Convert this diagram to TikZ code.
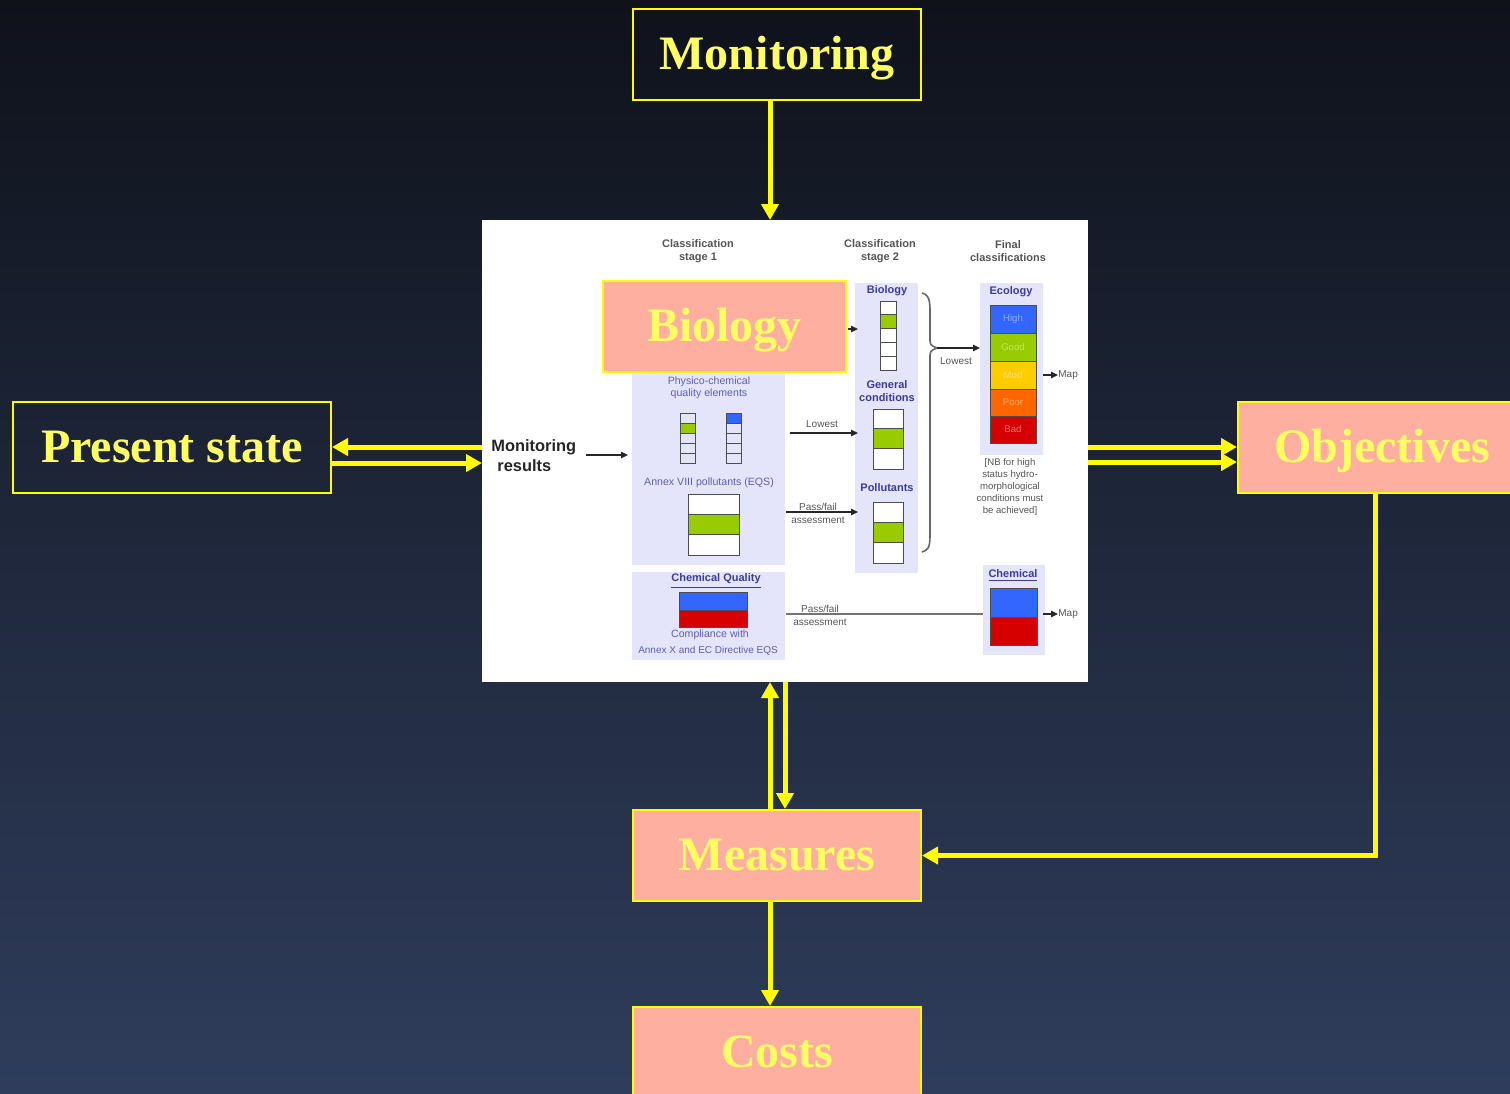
\documentclass[tikz,border=0pt]{standalone}
\usepackage{fontspec}
\setmainfont{Liberation Serif}
\setsansfont{Liberation Sans}
\usetikzlibrary{arrows.meta}

\definecolor{bgtop}{RGB}{15,18,27}
\definecolor{bgbot}{RGB}{47,61,92}
\definecolor{pinkfill}{RGB}{255,175,160}
\definecolor{ytext}{RGB}{255,255,100}
\definecolor{ycol}{RGB}{255,255,0}
\definecolor{lav}{RGB}{228,228,250}
\definecolor{bluetxt}{RGB}{95,95,175}
\definecolor{dbluetxt}{RGB}{60,60,150}
\definecolor{graytxt}{RGB}{85,85,85}
\definecolor{cblue}{RGB}{51,102,255}
\definecolor{cgreen}{RGB}{153,204,0}
\definecolor{cyellow}{RGB}{255,204,0}
\definecolor{corange}{RGB}{255,102,0}
\definecolor{cred}{RGB}{215,0,0}

\begin{document}
\begin{tikzpicture}[x=0.5pt,y=-0.5pt,
  bigbox/.style={draw=ycol, line width=1pt, minimum width=144pt, minimum height=45.5pt,
    inner sep=0pt, text=ytext, text height=17pt, text depth=2pt,
    font=\fontsize{24}{28}\selectfont\bfseries},
  pinkbox/.style={bigbox, fill=pinkfill},
  yarrow/.style={draw=ycol, line width=2.5pt, -{Triangle[length=8pt,width=8.5pt]}},
  hdr/.style={font=\sffamily\bfseries\fontsize{5.5}{6.5}\selectfont, text=graytxt, align=center, inner sep=0pt},
  btxt/.style={font=\sffamily\fontsize{5.3}{6}\selectfont, text=bluetxt, align=center, inner sep=0pt},
  bbold/.style={font=\sffamily\bfseries\fontsize{5.5}{6.5}\selectfont, text=dbluetxt, align=center, inner sep=0pt},
  gtxt/.style={font=\sffamily\fontsize{5}{6.5}\selectfont, text=graytxt, align=center, inner sep=0pt},
  ntxt/.style={font=\sffamily\fontsize{4.8}{5.9}\selectfont, text=graytxt, align=center, inner sep=0pt},
  celltxt/.style={font=\sffamily\fontsize{4.8}{5}\selectfont, inner sep=0pt},
  cell/.style={draw=black!70, line width=0.5pt},
  blk/.style={draw=black!85, line width=0.6pt, -{Triangle[length=3.5pt,width=3.2pt]}}
]
\useasboundingbox (0,0) rectangle (1510,1093);
\clip (0,0) rectangle (1510,1093);
\shade[top color=bgtop, bottom color=bgbot] (0,0) rectangle (1510,1093);

% central panel
\node[fill=white, minimum width=303pt, minimum height=231pt, inner sep=0pt, outer sep=0pt] (panel) at (785,451) {};

% lavender areas
\fill[lav] (632,283) rectangle (785,565);
\fill[lav] (632,572) rectangle (785,660);
\fill[lav] (855,283) rectangle (918,573);
\fill[lav] (980,283) rectangle (1043,455);
\fill[lav] (983,565) rectangle (1045,655);

% headers
\node[hdr] (h1) at (698,251) {Classification\\stage 1};
\node[hdr] (h2) at (880,251) {Classification\\stage 2};
\node[hdr] (h3) at (1008,251) {Final\\classifications};

% monitoring results
\node[font=\sffamily\bfseries\fontsize{8.2}{9}\selectfont, text=black!85, anchor=west, inner sep=0pt] (mres1) at (491,447) {Monitoring};
\node[font=\sffamily\bfseries\fontsize{8.2}{9}\selectfont, text=black!85, anchor=west, inner sep=0pt] (mres2) at (497,466) {results};
\coordinate (mra) at (586,455);
\coordinate (mrb) at (628,455);
\draw[blk] (mra) -- (mrb);

% stage 1 content
\node[btxt] (pc) at (709,388) {Physico-chemical\\quality elements};
\foreach \i in {0,...,4}{
  \draw[cell] (680,{413+10*\i}) rectangle (695,{423+10*\i});
  \draw[cell] (726,{413+10*\i}) rectangle (741,{423+10*\i});
}
\draw[cell, fill=cgreen] (680,423) rectangle (695,433);
\draw[cell, fill=cblue] (726,413) rectangle (741,423);
\node[btxt] (ann8) at (709,483) {Annex VIII pollutants (EQS)};
\draw[cell, fill=white] (688,494) rectangle (739,514);
\draw[cell, fill=cgreen] (688,514) rectangle (739,534);
\draw[cell, fill=white] (688,534) rectangle (739,555);

\node[bbold] (cq) at (716,581) {\underline{Chemical Quality}};
\draw[cell, fill=cblue] (679,592) rectangle (747,610);
\draw[cell, fill=cred] (679,610) rectangle (747,627);
\node[btxt] (comp) at (710,635) {Compliance with};
\node[btxt, font=\sffamily\fontsize{5}{6}\selectfont] (ann10) at (708,651) {Annex X and EC Directive EQS};

% stage 2 content
\node[bbold] (s2bio) at (887,291) {Biology};
\foreach \i in {0,...,4}{
  \draw[cell, fill=white] (880,{301+13.8*\i}) rectangle (896,{314.8+13.8*\i});
}
\draw[cell, fill=cgreen] (880,314.8) rectangle (896,328.6);
\node[bbold] (s2gen) at (887,391) {General\\conditions};
\draw[cell, fill=white] (873,409) rectangle (903,428);
\draw[cell, fill=cgreen] (873,428) rectangle (903,448);
\draw[cell, fill=white] (873,448) rectangle (903,469);
\node[bbold] (s2pol) at (887,488) {Pollutants};
\draw[cell, fill=white] (873,502) rectangle (903,522);
\draw[cell, fill=cgreen] (873,522) rectangle (903,542);
\draw[cell, fill=white] (873,542) rectangle (903,563);

% stage 1 -> 2 arrows
\coordinate (la) at (790,433);
\coordinate (lb) at (858,433);
\draw[blk] (la) -- (lb);
\node[gtxt] (low1) at (822,424) {Lowest};
\coordinate (pa) at (786,512);
\coordinate (pb) at (858,512);
\draw[blk] (pa) -- (pb);
\node[gtxt] (pf1) at (818,513) {Pass/fail\\assessment};

% brace
\draw[black!60, line width=0.8pt] (922,293) .. controls (931,295) and (930,305) .. (930,320)
  -- (930,338) .. controls (930,345) .. (937,348) .. controls (930,351) .. (930,358)
  -- (930,535) .. controls (930,548) and (928,550) .. (922,552);
\coordinate (bt) at (937,348);
\coordinate (be) at (980,348);
\draw[blk] (bt) -- (be);
\node[gtxt] (low2) at (956,361) {Lowest};

% final classifications
\node[bbold] (eco) at (1011,292) {Ecology};
\draw[cell, fill=cblue] (990,305) rectangle (1036,333);
\draw[cell, fill=cgreen] (990,333) rectangle (1036,361);
\draw[cell, fill=cyellow] (990,361) rectangle (1036,389);
\draw[cell, fill=corange] (990,389) rectangle (1036,416);
\draw[cell, fill=cred] (990,416) rectangle (1036,443);
\node[celltxt, text=white!45!cblue] (tH) at (1013,319) {High};
\node[celltxt, text=white!45!cgreen] (tG) at (1013,347) {Good};
\node[celltxt, text=white!45!cyellow] (tM) at (1013,375) {Mod};
\node[celltxt, text=white!45!corange] (tP) at (1013,402.5) {Poor};
\node[celltxt, text=white!45!cred] (tB) at (1013,429.5) {Bad};
\coordinate (ma) at (1043,375);
\coordinate (mb) at (1058,375);
\draw[blk] (ma) -- (mb);
\node[gtxt, anchor=west] (map1) at (1058,375) {Map};
\node[ntxt] (nb) at (1010,487) {[NB for high\\status hydro-\\morphological\\conditions must\\be achieved]};

\node[bbold] (chem) at (1013,576) {\underline{Chemical}};
\draw[cell, fill=cblue] (990,588) rectangle (1037,617);
\draw[cell, fill=cred] (990,617) rectangle (1037,645);
\coordinate (ca) at (786,614);
\coordinate (cb) at (983,614);
\draw[black!55, line width=0.7pt] (ca) -- (cb);
\node[gtxt] (pf2) at (820,615) {Pass/fail\\assessment};
\coordinate (mc) at (1043,614);
\coordinate (md) at (1058,614);
\draw[blk] (mc) -- (md);
\node[gtxt, anchor=west] (map2) at (1058,614) {Map};

% Biology overlay box
\node[pinkbox, minimum width=121.5pt] (bio) at (724.5,326.5) {Biology};
\coordinate (ba) at (848,329);
\coordinate (bb) at (858,329);
\draw[blk] (ba) -- (bb);

% main boxes
\node[bigbox] (mon) at (777,54) {Monitoring};
\node[bigbox, minimum width=159pt] (ps) at (172,447.5) {Present state};
\node[pinkbox] (obj) at (1382,447.5) {Objectives};
\node[pinkbox] (meas) at (777,855.5) {Measures};
\node[pinkbox] (costs) at (777,1052.5) {Costs};

% main connectors
\draw[yarrow] ([xshift=-3.5pt]mon.south) -- ([xshift=-3.5pt]mon.south |- panel.north);
\draw[yarrow] ([yshift=2pt]panel.west) -- ([yshift=2pt]panel.west -| ps.east);
\draw[yarrow] ([yshift=-6pt]panel.west -| ps.east) -- ([yshift=-6pt]panel.west);
\draw[yarrow] ([yshift=2pt]panel.east) -- ([yshift=2pt]panel.east -| obj.west);
\draw[yarrow] ([yshift=-5.5pt]panel.east) -- ([yshift=-5.5pt]panel.east -| obj.west);
\draw[yarrow] ([xshift=-3.5pt]obj.south) |- (meas.east);
\draw[yarrow] ([xshift=-3.5pt]meas.north) -- ([xshift=-3.5pt]meas.north |- panel.south);
\draw[yarrow] ([xshift=4pt]meas.north |- panel.south) -- ([xshift=4pt]meas.north);
\draw[yarrow] ([xshift=-3.5pt]meas.south) -- ([xshift=-3.5pt]costs.north);
\end{tikzpicture}
\end{document}
